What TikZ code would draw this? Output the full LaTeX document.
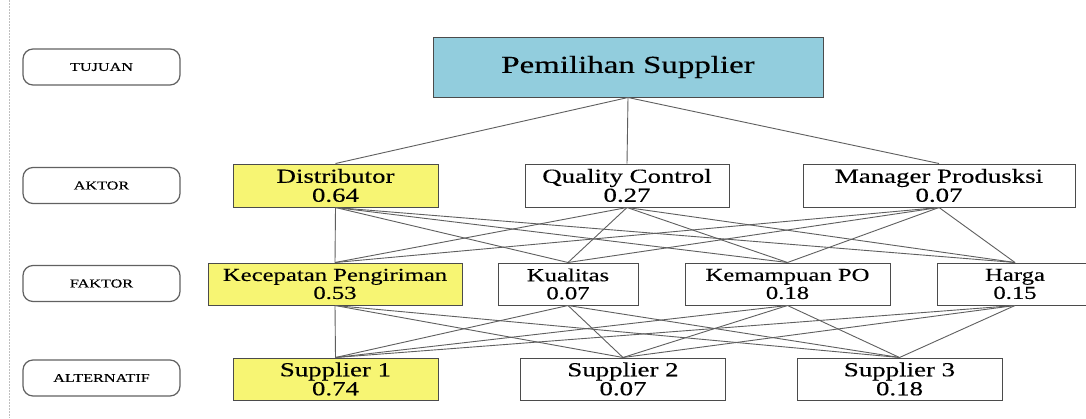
\documentclass[tikz,border=0pt]{standalone}
\usepackage{fontspec}
\setmainfont{Liberation Serif}[FakeStretch=1.35,FakeBold=0.3]
\definecolor{topblue}{RGB}{146,205,221}
\definecolor{hiyellow}{RGB}{247,245,115}
\definecolor{boxline}{RGB}{75,75,75}
\definecolor{linkgray}{RGB}{95,95,95}
\begin{document}
\begin{tikzpicture}[x=1pt,y=-1pt,
  box/.style={draw=boxline, line width=1pt, rectangle, inner sep=0pt, align=center, text=black},
  aktorbox/.style={box, minimum height=43pt, font=\fontsize{19.9}{19}\selectfont},
  faktorbox/.style={box, minimum height=42pt, font=\fontsize{18.3}{18}\selectfont},
  altbox/.style={box, minimum height=42pt, font=\fontsize{19.9}{19}\selectfont},
  lbl/.style={draw=black!62, line width=1.2pt, rounded corners=10pt, minimum width=157pt, minimum height=36pt, inner sep=0pt, font=\fontsize{12}{14}\selectfont},
  link/.style={draw=linkgray, line width=0.9pt}]
\useasboundingbox (0,0) rectangle (1086,418);
\fill[white] (0,0) rectangle (1086,418);
\draw[black!25, line width=0.8pt, dash pattern=on 1.5pt off 1.5pt] (9,0) -- (9,418);

% level labels
\node[lbl] (ltujuan) at (101.5,67) {TUJUAN};
\node[lbl] (laktor) at (101.5,185.5) {AKTOR};
\node[lbl] (lfaktor) at (101.5,283.5) {FAKTOR};
\node[lbl] (lalt) at (101.5,378) {ALTERNATIF};

% goal
\node[box, fill=topblue, minimum width=390pt, minimum height=60pt, font=\fontsize{24.4}{26}\selectfont] (goal) at (628,67) {Pemilihan Supplier};

% aktor
\node[aktorbox, fill=hiyellow, minimum width=205pt] (dist) at (335.5,185.5) {Distributor\\0.64};
\node[aktorbox, fill=white, minimum width=204pt] (qc) at (627,185.5) {Quality Control\\0.27};
\node[aktorbox, fill=white, minimum width=272pt] (mgr) at (939,185.5) {Manager Produsksi\\0.07};

% faktor
\node[faktorbox, fill=hiyellow, minimum width=254pt] (kec) at (335,284) {Kecepatan Pengiriman\\0.53};
\node[faktorbox, fill=white, minimum width=140pt] (kual) at (568,284) {Kualitas\\0.07};
\node[faktorbox, fill=white, minimum width=205pt] (kem) at (787.5,284) {Kemampuan PO\\0.18};
\node[faktorbox, fill=white, minimum width=156pt] (harga) at (1015,284) {Harga\\0.15};

% alternatif
\node[altbox, fill=hiyellow, minimum width=205pt] (s1) at (335.5,379) {Supplier 1\\0.74};
\node[altbox, fill=white, minimum width=205pt] (s2) at (623,379) {Supplier 2\\0.07};
\node[altbox, fill=white, minimum width=205pt] (s3) at (899.5,379) {Supplier 3\\0.18};

% connectors
\foreach \a in {dist,qc,mgr} \draw[link] (goal.south) -- (\a.north);
\foreach \a in {dist,qc,mgr}
  \foreach \f in {kec,kual,kem,harga}
    \draw[link] (\a.south) -- (\f.north);
\foreach \f in {kec,kual,kem,harga}
  \foreach \s in {s1,s2,s3}
    \draw[link] (\f.south) -- (\s.north);
\end{tikzpicture}
\end{document}
